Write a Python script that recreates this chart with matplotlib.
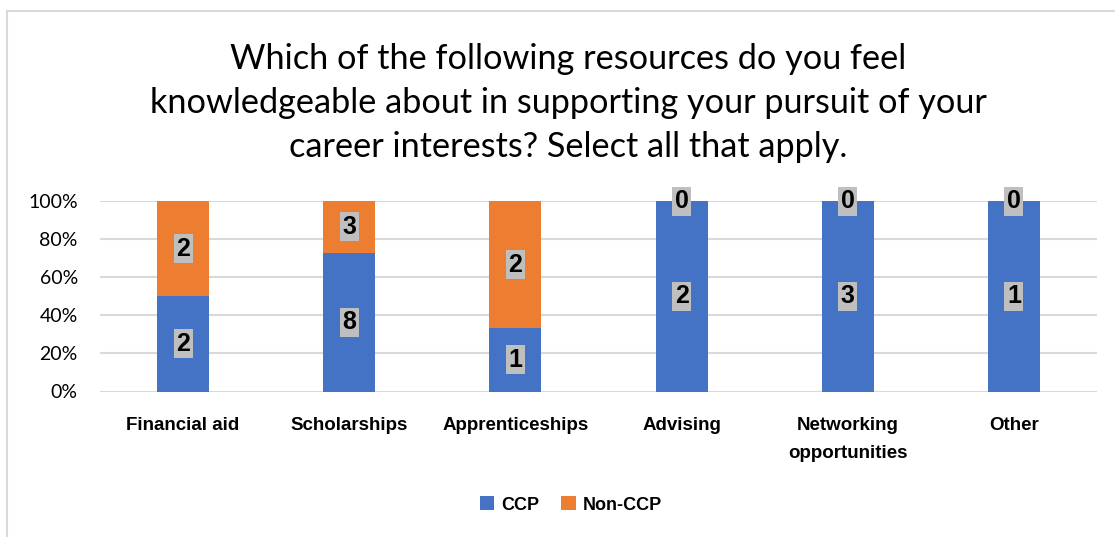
import numpy as np
import matplotlib.pyplot as plt
from matplotlib.lines import Line2D

plt.rcParams['font.family'] = ['Lato', 'DejaVu Sans']
bold_font = ['Liberation Sans', 'DejaVu Sans']

# Ответы по категориям ресурсов
categories = ['Financial aid', 'Scholarships', 'Apprenticeships', 'Advising',
              'Networking\nopportunities', 'Other']
ccp = np.array([2, 8, 1, 2, 3, 1])
non_ccp = np.array([2, 3, 2, 0, 0, 0])
title = ('Which of the following resources do you feel\n'
         'knowledgeable about in supporting your pursuit of your\n'
         'career interests? Select all that apply.')

blue = '#4472C4'
orange = '#ED7D31'

total = ccp + non_ccp
ccp_pct = ccp / total
non_pct = non_ccp / total

fig = plt.figure(figsize=(11.15, 5.37), dpi=100)
ax = fig.add_axes([100 / 1115, 1 - 391.5 / 537, 997 / 1115, 190.5 / 537])

x = np.arange(len(categories))
w = 0.313
ax.bar(x, ccp_pct, w, color=blue, label='CCP', zorder=2)
ax.bar(x, non_pct, w, bottom=ccp_pct, color=orange, label='Non-CCP', zorder=2)

# Подписи значений в серых плашках
box = dict(boxstyle='square,pad=0.1', fc='#BFBFBF', ec='none')
for i in range(len(categories)):
    ax.text(x[i], ccp_pct[i] / 2, str(ccp[i]), ha='center', va='center',
            fontsize=18, fontweight='bold', family=bold_font, bbox=box, zorder=3)
    ax.text(x[i], ccp_pct[i] + non_pct[i] / 2, str(non_ccp[i]), ha='center',
            va='center', fontsize=18, fontweight='bold', family=bold_font,
            bbox=box, zorder=3)

ax.set_xlim(-0.5, len(categories) - 0.5)
ax.set_ylim(0, 1)
ax.set_yticks(np.arange(0, 1.01, 0.2))
ax.set_yticklabels([f'{int(round(v * 100))}%' for v in np.arange(0, 1.01, 0.2)])
ax.set_xticks(x)
ax.set_xticklabels(categories, fontweight='bold', family=bold_font,
                   fontsize=13.5, va='top')
for lbl in ax.get_xticklabels():
    lbl.set_linespacing(1.85)
ax.tick_params(axis='y', length=0, pad=16, labelsize=14)
ax.tick_params(axis='x', length=0, pad=18)
ax.grid(axis='y', color='#D9D9D9', linewidth=1.5, zorder=0)
for s in ax.spines.values():
    s.set_visible(False)
ax.set_axisbelow(True)

fig.text(568 / 1115, 1 - 103 / 537, title, ha='center', va='center',
         fontsize=24.7, linespacing=1.47)

fig.legend(loc='center', bbox_to_anchor=(571 / 1115, 1 - 505 / 537), ncol=2,
           frameon=False, handlelength=0.8, handleheight=0.8, handletextpad=0.4,
           columnspacing=1.2,
           prop={'family': bold_font, 'weight': 'bold', 'size': 13})

# Рамка области диаграммы
fig.add_artist(Line2D([7 / 1115, 1], [1 - 11 / 537] * 2, color='#D9D9D9', lw=1.5))
fig.add_artist(Line2D([7 / 1115] * 2, [0, 1 - 11 / 537], color='#D9D9D9', lw=1.5))

fig.savefig('out.png', dpi=100)
